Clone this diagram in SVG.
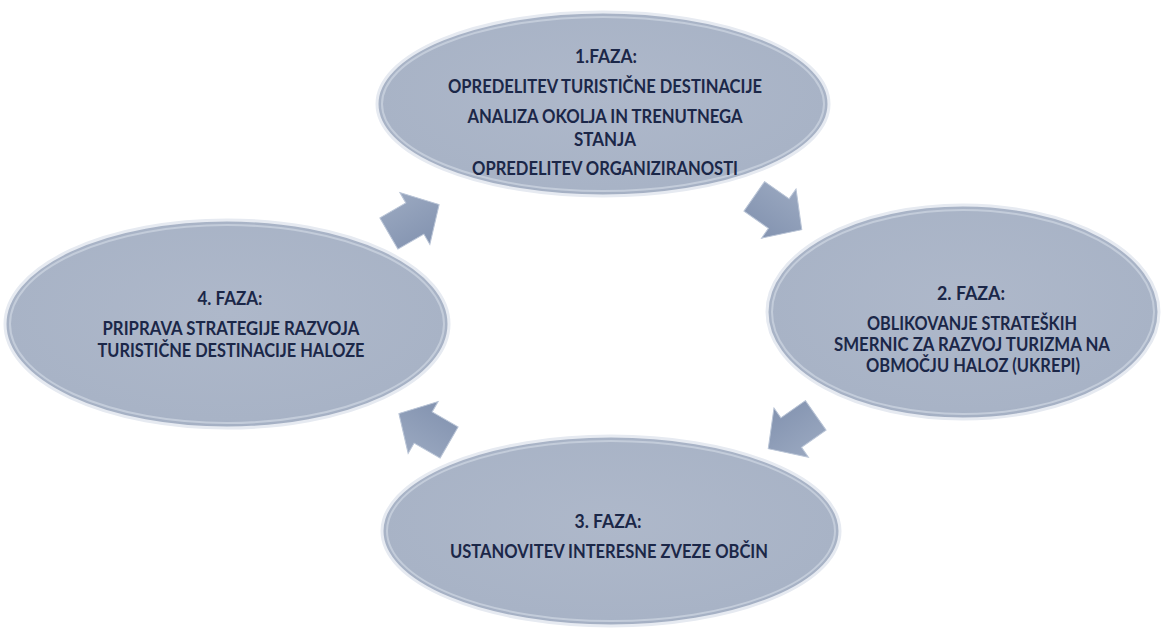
<svg xmlns="http://www.w3.org/2000/svg" width="1163" height="629" viewBox="0 0 1163 629">
<style>
.ell{fill:url(#eg);stroke:#e6eaf1;stroke-width:3}
.rim{fill:none;stroke:#c3ccda;stroke-width:2}
.t{font-family:Lato,"Liberation Sans",sans-serif;font-weight:bold;font-size:18px;fill:#1b2748;text-anchor:middle}
.arr{fill:url(#ag);stroke:#b9c4d6;stroke-width:1}
</style>
<defs>
<radialGradient id="eg" cx="0.5" cy="0.45" r="0.6">
<stop offset="0" stop-color="#aeb8ca"/>
<stop offset="0.85" stop-color="#a8b3c6"/>
<stop offset="1" stop-color="#9fabc0"/>
</radialGradient>
<linearGradient id="ag" x1="0" y1="0" x2="0" y2="1">
<stop offset="0" stop-color="#9aa8c0"/>
<stop offset="1" stop-color="#8393b0"/>
</linearGradient>
<path id="arrow" d="M-29,-18 L1,-18 L1,-30 L29,0 L1,30 L1,18 L-29,18 Z"/>
</defs>
<rect width="1163" height="629" fill="#ffffff"/>
<g id="connectors">
<use href="#arrow" class="arr" transform="translate(414,219) rotate(-30)"/>
<use href="#arrow" class="arr" transform="translate(778,213) rotate(35)"/>
<use href="#arrow" class="arr" transform="translate(792,432) rotate(145)"/>
<use href="#arrow" class="arr" transform="translate(424,428) rotate(210)"/>
</g>
<g id="node1">
<ellipse class="ell" cx="603" cy="104" rx="226" ry="92"/>
<ellipse class="rim" cx="603" cy="104" rx="221" ry="87"/>
<text class="t" x="606" y="63" textLength="62" lengthAdjust="spacingAndGlyphs">1.FAZA:</text>
<text class="t" x="605" y="93" textLength="314" lengthAdjust="spacingAndGlyphs">OPREDELITEV TURISTIČNE DESTINACIJE</text>
<text class="t" x="605" y="123" textLength="275" lengthAdjust="spacingAndGlyphs">ANALIZA OKOLJA IN TRENUTNEGA</text>
<text class="t" x="605" y="146" textLength="62" lengthAdjust="spacingAndGlyphs">STANJA</text>
<text class="t" x="605" y="175" textLength="266" lengthAdjust="spacingAndGlyphs">OPREDELITEV ORGANIZIRANOSTI</text>
</g>
<g id="node2">
<ellipse class="ell" cx="963" cy="312" rx="196" ry="107"/>
<ellipse class="rim" cx="963" cy="312" rx="191" ry="102"/>
<text class="t" x="971" y="300" textLength="68" lengthAdjust="spacingAndGlyphs">2. FAZA:</text>
<text class="t" x="972" y="330" textLength="210" lengthAdjust="spacingAndGlyphs">OBLIKOVANJE STRATEŠKIH</text>
<text class="t" x="972" y="351" textLength="276" lengthAdjust="spacingAndGlyphs">SMERNIC ZA RAZVOJ TURIZMA NA</text>
<text class="t" x="973" y="372" textLength="214" lengthAdjust="spacingAndGlyphs">OBMOČJU HALOZ (UKREPI)</text>
</g>
<g id="node3">
<ellipse class="ell" cx="611" cy="531" rx="229" ry="95"/>
<ellipse class="rim" cx="611" cy="531" rx="224" ry="90"/>
<text class="t" x="608" y="528" textLength="67" lengthAdjust="spacingAndGlyphs">3. FAZA:</text>
<text class="t" x="609" y="558" textLength="318" lengthAdjust="spacingAndGlyphs">USTANOVITEV INTERESNE ZVEZE OBČIN</text>
</g>
<g id="node4">
<ellipse class="ell" cx="227" cy="324" rx="222" ry="104"/>
<ellipse class="rim" cx="227" cy="324" rx="217" ry="99"/>
<text class="t" x="230" y="305" textLength="65" lengthAdjust="spacingAndGlyphs">4. FAZA:</text>
<text class="t" x="231" y="335" textLength="257" lengthAdjust="spacingAndGlyphs">PRIPRAVA STRATEGIJE RAZVOJA</text>
<text class="t" x="231" y="357" textLength="267" lengthAdjust="spacingAndGlyphs">TURISTIČNE DESTINACIJE HALOZE</text>
</g>
</svg>
